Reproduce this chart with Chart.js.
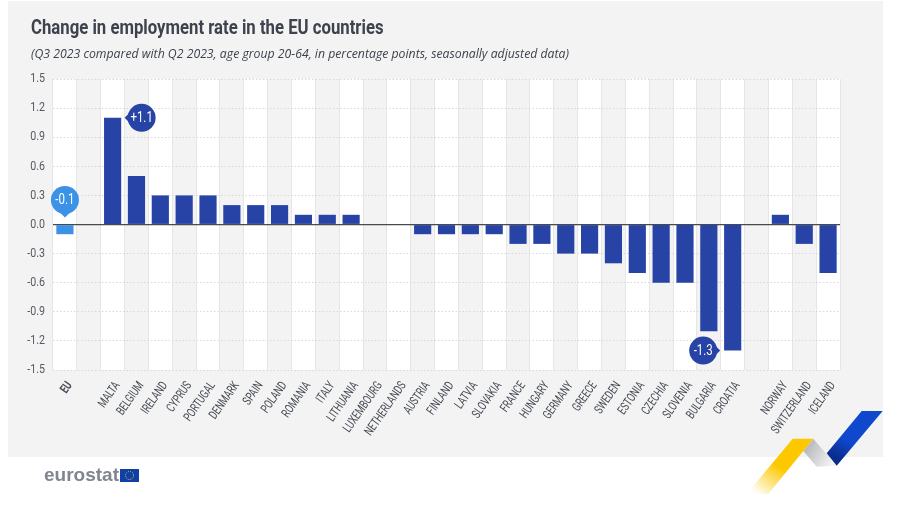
<!DOCTYPE html>
<html>
<head>
<meta charset="utf-8">
<title>Change in employment rate in the EU countries</title>
<script src="https://cdn.jsdelivr.net/npm/chart.js@4"></script>
<style>
  html, body { margin: 0; padding: 0; background: #fff; }
  #wrap { position: relative; width: 898px; height: 506px; overflow: hidden; }
  #panel { position: absolute; left: 8px; top: 1px; width: 875px; height: 456px; background: #f3f3f3; }
  #myChart { position: absolute; left: 0; top: 0; }
  #brand { position: absolute; left: 44px; top: 464px; font: bold 19px "Liberation Sans", sans-serif; color: #80858f; }
  #deco { position: absolute; left: 0; top: 0; }
  #title { position: absolute; left: 31px; top: 15px; white-space: nowrap; font: bold 21px Roboto, sans-serif; color: #3d424d; transform: scaleX(0.797); transform-origin: left top; }
  #subtitle { position: absolute; left: 31px; top: 45px; white-space: nowrap; font: italic 12.25px "Open Sans", sans-serif; color: #3d424d; }
</style>
</head>
<body>
<div id="wrap">
  <div id="panel"></div>
  <canvas id="myChart" width="898" height="506"></canvas>
  <div id="title"></div>
  <div id="subtitle"></div>
  <svg id="deco" width="898" height="506">
    <defs>
      <linearGradient id="yellow" x1="0.75" y1="0.3" x2="0.15" y2="1">
        <stop offset="0.35" stop-color="#fdc800"/><stop offset="1" stop-color="#ffffff"/>
      </linearGradient>
      <linearGradient id="grey" x1="0" y1="0" x2="1" y2="0.5">
        <stop offset="0" stop-color="#a9abaf"/><stop offset="1" stop-color="#f1f1f2"/>
      </linearGradient>
      <linearGradient id="blue" x1="0.7" y1="0.3" x2="0.35" y2="0.95">
        <stop offset="0.5" stop-color="#0f48cc"/><stop offset="1" stop-color="#0a2c8c"/>
      </linearGradient>
    </defs>
    <polygon points="813.3,438.7 836.7,465.7 816.7,466.7 803.3,451" fill="url(#grey)"/>
    <polygon points="792.7,438.7 813.3,438.7 768.3,494 746.7,494" fill="url(#yellow)"/>
    <polygon points="861.7,411 882.7,411 836.7,465.7 826.7,453.3" fill="url(#blue)"/>
    <rect x="120" y="469" width="19" height="13" fill="#0f3fa8"/>
    <circle cx="129.5" cy="475.5" r="4" fill="none" stroke="#e8c53a" stroke-width="1" stroke-dasharray="1 1.1"/>
  </svg>
  <div id="brand">eurostat</div>
</div>
<script>
const countries = ['EU', '', 'MALTA', 'BELGIUM', 'IRELAND', 'CYPRUS', 'PORTUGAL', 'DENMARK', 'SPAIN', 'POLAND', 'ROMANIA', 'ITALY', 'LITHUANIA', 'LUXEMBOURG', 'NETHERLANDS', 'AUSTRIA', 'FINLAND', 'LATVIA', 'SLOVAKIA', 'FRANCE', 'HUNGARY', 'GERMANY', 'GREECE', 'SWEDEN', 'ESTONIA', 'CZECHIA', 'SLOVENIA', 'BULGARIA', 'CROATIA', '', 'NORWAY', 'SWITZERLAND', 'ICELAND'];
const changes = [-0.1, null, 1.1, 0.5, 0.3, 0.3, 0.3, 0.2, 0.2, 0.2, 0.1, 0.1, 0.1, 0, 0, -0.1, -0.1, -0.1, -0.1, -0.2, -0.2, -0.3, -0.3, -0.4, -0.5, -0.6, -0.6, -1.1, -1.3, null, 0.1, -0.2, -0.5];
const titleText = 'Change in employment rate in the EU countries';
const subtitleText = '(Q3 2023 compared with Q2 2023, age group 20-64, in percentage points, seasonally adjusted data)';

const BAR = '#2743a6';
const EU_BAR = '#3b92e6';
const FONT = 'Roboto, sans-serif';

document.getElementById('title').textContent = titleText;
document.getElementById('subtitle').textContent = subtitleText;

// no condensed face is installed, so squeeze canvas text with fillText's maxWidth
// x tick labels (12.5px) are squeezed harder than the rest
const canvas = document.getElementById('myChart');
const canvasCtx = canvas.getContext('2d');
const plainFill = canvasCtx.fillText;
canvasCtx.fillText = function (text, x, y) {
    const squeeze = this.font.includes('12.5px') ? 0.72 : 0.82;
    return plainFill.call(this, text, x, y, this.measureText(text).width * squeeze);
};

// alternate grey columns behind the bars
const stripes = {
    id: 'stripes',
    beforeDraw(chart) {
        const { ctx, chartArea: a, scales: { x } } = chart;
        ctx.save();
        ctx.fillStyle = '#fff';
        ctx.fillRect(a.left, a.top, a.width, a.height);
        ctx.fillStyle = '#f3f3f3';
        const w = a.width / countries.length;
        countries.forEach((c, i) => {
            if (i % 2 == 1) ctx.fillRect(x.getPixelForValue(i) - w / 2, a.top, w, a.height);
        });
        ctx.restore();
    }
};

// round value badges: EU above the axis, Malta and Croatia beside their bars
const callouts = {
    id: 'callouts',
    afterDatasetsDraw(chart) {
        const { ctx, scales: { x, y } } = chart;
        const badge = (cx, cy, r, color, text, tipX, tipY, dir) => {
            ctx.fillStyle = color;
            ctx.beginPath();
            ctx.arc(cx, cy, r, 0, Math.PI * 2);
            ctx.fill();
            ctx.beginPath();
            ctx.moveTo(tipX, tipY);
            if (dir == 'down') {
                ctx.lineTo(tipX - 6, tipY - 6);
                ctx.lineTo(tipX + 6, tipY - 6);
            } else {
                const s = dir == 'left' ? 1 : -1;
                ctx.lineTo(tipX + 6 * s, tipY - 6);
                ctx.lineTo(tipX + 6 * s, tipY + 6);
            }
            ctx.fill();
            ctx.fillStyle = '#fff';
            ctx.font = '14px ' + FONT;
            ctx.textAlign = 'center';
            ctx.textBaseline = 'middle';
            ctx.fillText(text, cx, cy + 0.5);
        };
        ctx.save();
        const zero = y.getPixelForValue(0);
        badge(x.getPixelForValue(0), zero - 24.5, 14, EU_BAR, '-0.1', x.getPixelForValue(0), zero - 7, 'down');
        const mx = x.getPixelForValue(2), my = y.getPixelForValue(changes[2]);
        badge(mx + 29, my, 14, BAR, '+1.1', mx + 12, my, 'left');
        const cx = x.getPixelForValue(28), cy = y.getPixelForValue(changes[28]);
        badge(cx - 29.5, cy, 14, BAR, '-1.3', cx - 12.5, cy, 'right');
        ctx.restore();
    }
};

const data = {
    labels: countries,
    datasets: [{
        data: changes,
        backgroundColor: changes.map((v, i) => i == 0 ? EU_BAR : BAR),
        barPercentage: 0.72,
        categoryPercentage: 1
    }]
};

const config = {
    type: 'bar',
    data,
    plugins: [stripes, callouts],
    options: {
        responsive: false,
        animation: false,
        layout: { padding: { left: 0, right: 58, top: 79, bottom: 16 } },
        plugins: {
            legend: { display: false },
            tooltip: { enabled: false }
        },
        scales: {
            x: {
                afterFit(scale) { scale.height = 120; },
                grid: { color: '#e6e6e6', drawTicks: false },
                border: { display: false },
                ticks: {
                    autoSkip: false,
                    minRotation: 55,
                    maxRotation: 55,
                    padding: 9,
                    labelOffset: 5,
                    color: '#454a53',
                    font: ctx => ({ family: FONT, size: 12.5, weight: ctx.index == 0 ? 'bold' : 'normal' })
                }
            },
            y: {
                min: -1.5,
                max: 1.5,
                afterFit(scale) { scale.width = 53; },
                grid: {
                    drawTicks: false,
                    color: ctx => ctx.tick.value == 0 ? '#4a4a4a' : '#d8d8d8',
                    lineWidth: ctx => ctx.tick.value == 0 ? 1.2 : 1
                },
                border: { display: false, dash: ctx => (ctx.tick && ctx.tick.value == 0) ? [] : [1.5, 2] },
                ticks: {
                    stepSize: 0.3,
                    padding: 8,
                    color: '#555a63',
                    font: { family: FONT, size: 13 },
                    callback: v => (Math.abs(v) < 0.001 ? 0 : v).toFixed(1)
                }
            }
        }
    }
};

var myChart = new Chart(canvas, config);
</script>
</body>
</html>
